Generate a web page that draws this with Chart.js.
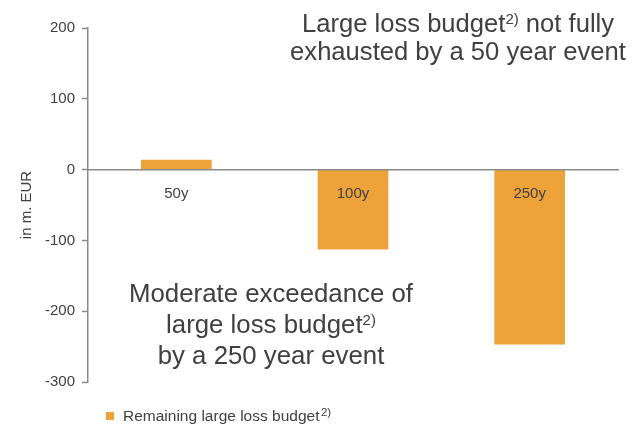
<!DOCTYPE html>
<html>
<head>
<meta charset="utf-8">
<script src="https://cdn.jsdelivr.net/npm/chart.js@4/dist/chart.umd.min.js"></script>
<style>
  html, body { margin: 0; padding: 0; background: #ffffff; }
  #wrap { width: 641px; height: 427px; position: relative; }
</style>
</head>
<body>
<div id="wrap"><canvas id="chart" width="641" height="427"></canvas></div>
<script>
// Return periods and the remaining large loss budget (in m. EUR)
const categories = ['50y', '100y', '250y'];
const remainingBudget = [14, -113, -247];
const yTickValues = [200, 100, 0, -100, -200, -300];

const seriesLabel = 'Remaining large loss budget';
const footnoteMark = '2)';

const topNote = [
  [{ t: 'Large loss budget' }, { t: footnoteMark, sup: true }, { t: ' not fully' }],
  [{ t: 'exhausted by a 50 year event' }]
];
const bottomNote = [
  [{ t: 'Moderate exceedance of' }],
  [{ t: 'large loss budget' }, { t: footnoteMark, sup: true }],
  [{ t: 'by a 250 year event' }]
];

const FONT = '"Liberation Sans", Arial, Helvetica, sans-serif';
const TEXT = '#404040';
const AXIS = '#8a8a8a';
const BAR = '#EDA33A';

// draws a line of text with raised footnote marks, centred on cx
function drawRichLine(ctx, parts, cx, baseline, size, supSize, supRise) {
  const main = size + 'px ' + FONT;
  const small = supSize + 'px ' + FONT;
  let total = 0;
  parts.forEach(p => {
    ctx.font = p.sup ? small : main;
    p.w = ctx.measureText(p.t).width;
    total += p.w;
  });
  let x = cx - total / 2;
  ctx.textAlign = 'left';
  ctx.textBaseline = 'alphabetic';
  parts.forEach(p => {
    ctx.font = p.sup ? small : main;
    ctx.fillText(p.t, x, p.sup ? baseline - supRise : baseline);
    x += p.w;
  });
}

const notesPlugin = {
  id: 'notes',
  afterDraw(chart) {
    const ctx = chart.ctx;
    ctx.save();
    ctx.fillStyle = TEXT;
    const topBase = [31.5, 59.5];
    topNote.forEach((line, i) => drawRichLine(ctx, line, 458, topBase[i], 25.6, 15, 8));
    const botBase = [301.5, 332.5, 363.5];
    bottomNote.forEach((line, i) => drawRichLine(ctx, line, 271, botBase[i], 25.8, 15, 8));

    // legend
    ctx.fillStyle = BAR;
    ctx.fillRect(106, 412, 8, 8);
    ctx.fillStyle = TEXT;
    ctx.font = '15.5px ' + FONT;
    ctx.textAlign = 'left';
    ctx.textBaseline = 'alphabetic';
    ctx.fillText(seriesLabel, 123, 421);
    const w = ctx.measureText(seriesLabel).width;
    ctx.font = '11.5px ' + FONT;
    ctx.fillText(footnoteMark, 123 + w + 1.5, 416);
    ctx.restore();
  }
};

new Chart(document.getElementById('chart'), {
  type: 'bar',
  data: {
    labels: categories,
    datasets: [{
      label: seriesLabel,
      data: remainingBudget,
      backgroundColor: BAR,
      borderWidth: 0,
      barPercentage: 0.4,
      categoryPercentage: 1.0
    }]
  },
  options: {
    responsive: false,
    animation: false,
    layout: { padding: { left: 0, right: 23, top: 28, bottom: 45 } },
    plugins: {
      legend: { display: false },
      tooltip: { enabled: false }
    },
    scales: {
      x: {
        position: { y: 0 },
        grid: { display: false, drawTicks: false },
        border: { display: true, color: AXIS, width: 1.5, z: 1 },
        ticks: { z: 1, autoSkip: false, color: TEXT, font: { family: FONT, size: 15 }, padding: 15, maxRotation: 0 }
      },
      y: {
        min: -300,
        max: 200,
        afterFit(scale) { scale.width = 88; },
        afterBuildTicks(scale) { scale.ticks = yTickValues.map(v => ({ value: v })); },
        grid: { drawOnChartArea: false, drawTicks: true, tickLength: 6, tickColor: AXIS, tickWidth: 1.5 },
        border: { display: true, color: AXIS, width: 1.5 },
        ticks: { color: TEXT, font: { family: FONT, size: 15 }, padding: 7 },
        title: {
          display: true,
          text: 'in m. EUR',
          color: TEXT,
          font: { family: FONT, size: 15 },
          padding: { top: 18, bottom: 0 }
        }
      }
    }
  },
  plugins: [notesPlugin]
});
</script>
</body>
</html>
